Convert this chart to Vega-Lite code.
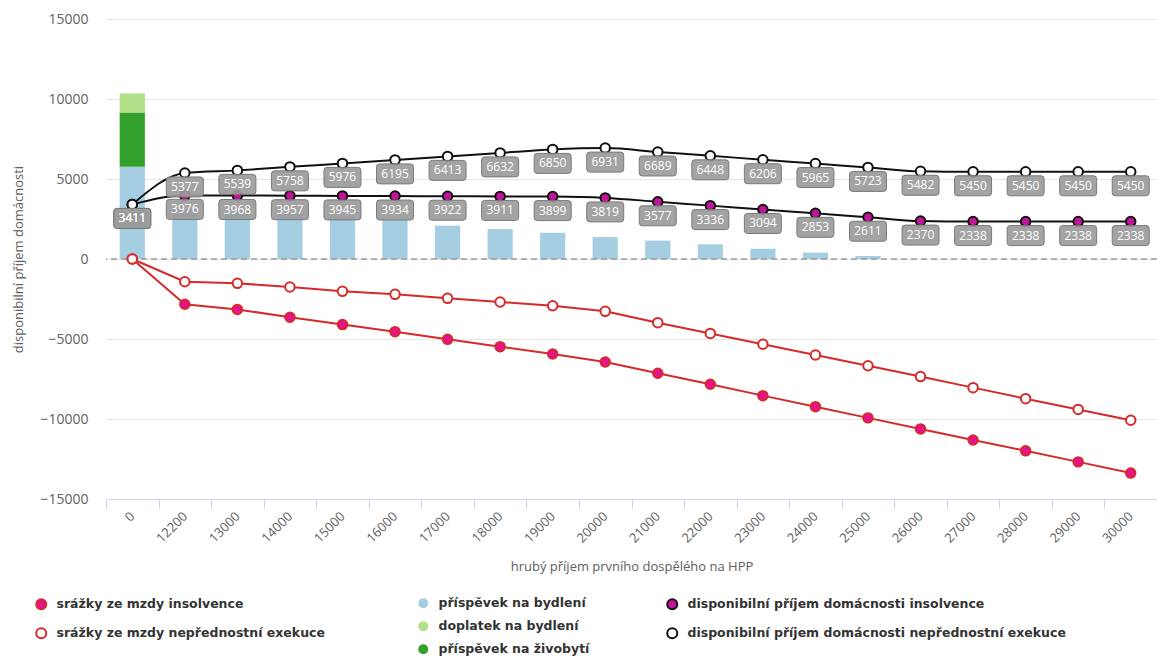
{
  "$schema": "https://vega.github.io/schema/vega-lite/v6.json",
  "width": 1051,
  "height": 480,
  "autosize": {"type": "none"},
  "padding": {"left": 106, "top": 19, "right": 0, "bottom": 157},
  "background": "white",
  "config": {
    "view": {"stroke": null},
    "font": "Open Sans",
    "axis": {"labelFont": "Open Sans", "titleFont": "Open Sans", "labelColor": "#606060", "titleColor": "#606060", "titleFontWeight": "normal"},
    "axisX": {"labelAngle": -45, "labelAlign": "right", "labelBaseline": "middle", "tickBand": "extent", "tickSize": 10, "tickColor": "#ccd6eb", "domainColor": "#ccd6eb", "grid": false, "labelFontSize": 13, "labelPadding": 5, "titleFontSize": 13, "titlePadding": 15},
    "axisY": {"grid": true, "gridColor": "#e6e6e6", "domain": false, "ticks": false, "labelFontSize": 14, "labelPadding": 18, "titleFontSize": 13, "titlePadding": 14},
    "legend": {"labelFont": "DejaVu Sans", "labelFontSize": 12.5, "labelFontWeight": "bold", "labelColor": "#333333", "labelLimit": 0, "symbolSize": 100, "rowPadding": 10, "labelOffset": 9}
  },
  "datasets": {
    "bars": [
      {"x": "0", "typ": "příspěvek na bydlení", "v": 5770},
      {"x": "0", "typ": "příspěvek na živobytí", "v": 3390},
      {"x": "0", "typ": "doplatek na bydlení", "v": 1190},
      {"x": "12200", "typ": "příspěvek na bydlení", "v": 3150},
      {"x": "13000", "typ": "příspěvek na bydlení", "v": 3000},
      {"x": "14000", "typ": "příspěvek na bydlení", "v": 2850},
      {"x": "15000", "typ": "příspěvek na bydlení", "v": 2650},
      {"x": "16000", "typ": "příspěvek na bydlení", "v": 2450},
      {"x": "17000", "typ": "příspěvek na bydlení", "v": 2080},
      {"x": "18000", "typ": "příspěvek na bydlení", "v": 1870},
      {"x": "19000", "typ": "příspěvek na bydlení", "v": 1640},
      {"x": "20000", "typ": "příspěvek na bydlení", "v": 1370},
      {"x": "21000", "typ": "příspěvek na bydlení", "v": 1150},
      {"x": "22000", "typ": "příspěvek na bydlení", "v": 920},
      {"x": "23000", "typ": "příspěvek na bydlení", "v": 640},
      {"x": "24000", "typ": "příspěvek na bydlení", "v": 400},
      {"x": "25000", "typ": "příspěvek na bydlení", "v": 190}
    ],
    "zero": [{"v": 0}],
    "srazky": [
      {"x": "0", "serie": "srážky ze mzdy insolvence", "v": 0},
      {"x": "12200", "serie": "srážky ze mzdy insolvence", "v": -2830},
      {"x": "13000", "serie": "srážky ze mzdy insolvence", "v": -3150},
      {"x": "14000", "serie": "srážky ze mzdy insolvence", "v": -3640},
      {"x": "15000", "serie": "srážky ze mzdy insolvence", "v": -4100},
      {"x": "16000", "serie": "srážky ze mzdy insolvence", "v": -4540},
      {"x": "17000", "serie": "srážky ze mzdy insolvence", "v": -5020},
      {"x": "18000", "serie": "srážky ze mzdy insolvence", "v": -5480},
      {"x": "19000", "serie": "srážky ze mzdy insolvence", "v": -5940},
      {"x": "20000", "serie": "srážky ze mzdy insolvence", "v": -6440},
      {"x": "21000", "serie": "srážky ze mzdy insolvence", "v": -7140},
      {"x": "22000", "serie": "srážky ze mzdy insolvence", "v": -7830},
      {"x": "23000", "serie": "srážky ze mzdy insolvence", "v": -8540},
      {"x": "24000", "serie": "srážky ze mzdy insolvence", "v": -9230},
      {"x": "25000", "serie": "srážky ze mzdy insolvence", "v": -9930},
      {"x": "26000", "serie": "srážky ze mzdy insolvence", "v": -10620},
      {"x": "27000", "serie": "srážky ze mzdy insolvence", "v": -11310},
      {"x": "28000", "serie": "srážky ze mzdy insolvence", "v": -11990},
      {"x": "29000", "serie": "srážky ze mzdy insolvence", "v": -12680},
      {"x": "30000", "serie": "srážky ze mzdy insolvence", "v": -13380},
      {"x": "0", "serie": "srážky ze mzdy nepřednostní exekuce", "v": 0},
      {"x": "12200", "serie": "srážky ze mzdy nepřednostní exekuce", "v": -1420},
      {"x": "13000", "serie": "srážky ze mzdy nepřednostní exekuce", "v": -1520},
      {"x": "14000", "serie": "srážky ze mzdy nepřednostní exekuce", "v": -1750},
      {"x": "15000", "serie": "srážky ze mzdy nepřednostní exekuce", "v": -2020},
      {"x": "16000", "serie": "srážky ze mzdy nepřednostní exekuce", "v": -2210},
      {"x": "17000", "serie": "srážky ze mzdy nepřednostní exekuce", "v": -2460},
      {"x": "18000", "serie": "srážky ze mzdy nepřednostní exekuce", "v": -2690},
      {"x": "19000", "serie": "srážky ze mzdy nepřednostní exekuce", "v": -2920},
      {"x": "20000", "serie": "srážky ze mzdy nepřednostní exekuce", "v": -3270},
      {"x": "21000", "serie": "srážky ze mzdy nepřednostní exekuce", "v": -3980},
      {"x": "22000", "serie": "srážky ze mzdy nepřednostní exekuce", "v": -4650},
      {"x": "23000", "serie": "srážky ze mzdy nepřednostní exekuce", "v": -5330},
      {"x": "24000", "serie": "srážky ze mzdy nepřednostní exekuce", "v": -6000},
      {"x": "25000", "serie": "srážky ze mzdy nepřednostní exekuce", "v": -6670},
      {"x": "26000", "serie": "srážky ze mzdy nepřednostní exekuce", "v": -7350},
      {"x": "27000", "serie": "srážky ze mzdy nepřednostní exekuce", "v": -8040},
      {"x": "28000", "serie": "srážky ze mzdy nepřednostní exekuce", "v": -8730},
      {"x": "29000", "serie": "srážky ze mzdy nepřednostní exekuce", "v": -9400},
      {"x": "30000", "serie": "srážky ze mzdy nepřednostní exekuce", "v": -10080}
    ],
    "disp": [
      {"x": "0", "serie": "disponibilní příjem domácnosti insolvence", "v": 3411},
      {"x": "12200", "serie": "disponibilní příjem domácnosti insolvence", "v": 3976},
      {"x": "13000", "serie": "disponibilní příjem domácnosti insolvence", "v": 3968},
      {"x": "14000", "serie": "disponibilní příjem domácnosti insolvence", "v": 3957},
      {"x": "15000", "serie": "disponibilní příjem domácnosti insolvence", "v": 3945},
      {"x": "16000", "serie": "disponibilní příjem domácnosti insolvence", "v": 3934},
      {"x": "17000", "serie": "disponibilní příjem domácnosti insolvence", "v": 3922},
      {"x": "18000", "serie": "disponibilní příjem domácnosti insolvence", "v": 3911},
      {"x": "19000", "serie": "disponibilní příjem domácnosti insolvence", "v": 3899},
      {"x": "20000", "serie": "disponibilní příjem domácnosti insolvence", "v": 3819},
      {"x": "21000", "serie": "disponibilní příjem domácnosti insolvence", "v": 3577},
      {"x": "22000", "serie": "disponibilní příjem domácnosti insolvence", "v": 3336},
      {"x": "23000", "serie": "disponibilní příjem domácnosti insolvence", "v": 3094},
      {"x": "24000", "serie": "disponibilní příjem domácnosti insolvence", "v": 2853},
      {"x": "25000", "serie": "disponibilní příjem domácnosti insolvence", "v": 2611},
      {"x": "26000", "serie": "disponibilní příjem domácnosti insolvence", "v": 2370},
      {"x": "27000", "serie": "disponibilní příjem domácnosti insolvence", "v": 2338},
      {"x": "28000", "serie": "disponibilní příjem domácnosti insolvence", "v": 2338},
      {"x": "29000", "serie": "disponibilní příjem domácnosti insolvence", "v": 2338},
      {"x": "30000", "serie": "disponibilní příjem domácnosti insolvence", "v": 2338},
      {"x": "0", "serie": "disponibilní příjem domácnosti nepřednostní exekuce", "v": 3411},
      {"x": "12200", "serie": "disponibilní příjem domácnosti nepřednostní exekuce", "v": 5377},
      {"x": "13000", "serie": "disponibilní příjem domácnosti nepřednostní exekuce", "v": 5539},
      {"x": "14000", "serie": "disponibilní příjem domácnosti nepřednostní exekuce", "v": 5758},
      {"x": "15000", "serie": "disponibilní příjem domácnosti nepřednostní exekuce", "v": 5976},
      {"x": "16000", "serie": "disponibilní příjem domácnosti nepřednostní exekuce", "v": 6195},
      {"x": "17000", "serie": "disponibilní příjem domácnosti nepřednostní exekuce", "v": 6413},
      {"x": "18000", "serie": "disponibilní příjem domácnosti nepřednostní exekuce", "v": 6632},
      {"x": "19000", "serie": "disponibilní příjem domácnosti nepřednostní exekuce", "v": 6850},
      {"x": "20000", "serie": "disponibilní příjem domácnosti nepřednostní exekuce", "v": 6931},
      {"x": "21000", "serie": "disponibilní příjem domácnosti nepřednostní exekuce", "v": 6689},
      {"x": "22000", "serie": "disponibilní příjem domácnosti nepřednostní exekuce", "v": 6448},
      {"x": "23000", "serie": "disponibilní příjem domácnosti nepřednostní exekuce", "v": 6206},
      {"x": "24000", "serie": "disponibilní příjem domácnosti nepřednostní exekuce", "v": 5965},
      {"x": "25000", "serie": "disponibilní příjem domácnosti nepřednostní exekuce", "v": 5723},
      {"x": "26000", "serie": "disponibilní příjem domácnosti nepřednostní exekuce", "v": 5482},
      {"x": "27000", "serie": "disponibilní příjem domácnosti nepřednostní exekuce", "v": 5450},
      {"x": "28000", "serie": "disponibilní příjem domácnosti nepřednostní exekuce", "v": 5450},
      {"x": "29000", "serie": "disponibilní příjem domácnosti nepřednostní exekuce", "v": 5450},
      {"x": "30000", "serie": "disponibilní příjem domácnosti nepřednostní exekuce", "v": 5450}
    ]
  },
  "layer": [
    {
      "data": {"name": "bars"},
      "mark": {"type": "bar", "width": {"band": 0.48}},
      "encoding": {
        "x": {"field": "x", "type": "nominal", "title": "hrubý příjem prvního dospělého na HPP", "scale": {"domain": ["0","12200","13000","14000","15000","16000","17000","18000","19000","20000","21000","22000","23000","24000","25000","26000","27000","28000","29000","30000"], "paddingInner": 0, "paddingOuter": 0}},
        "y": {"field": "v", "type": "quantitative", "stack": "zero", "title": "disponibilní příjem domácnosti", "scale": {"domain": [-15000, 15000], "nice": false}, "axis": {"values": [-15000, -10000, -5000, 0, 5000, 10000, 15000], "format": "d"}},
        "fill": {"field": "typ", "type": "nominal", "scale": {"domain": ["příspěvek na bydlení", "doplatek na bydlení", "příspěvek na živobytí"], "range": ["#a6cee3", "#b2df8a", "#33a02c"]}, "legend": {"title": null, "orient": "none", "legendX": 311, "legendY": 578, "symbolType": "circle", "symbolStrokeWidth": 0}},
        "order": {"field": "v", "sort": "descending"}
      }
    },
    {
      "data": {"name": "zero"},
      "mark": {"type": "rule", "color": "#9a9a9a", "strokeWidth": 1.5, "strokeDash": [6, 4]},
      "encoding": {
        "y": {"field": "v", "type": "quantitative", "title": "disponibilní příjem domácnosti", "scale": {"domain": [-15000, 15000], "nice": false}, "axis": {"values": [-15000, -10000, -5000, 0, 5000, 10000, 15000], "format": "d"}}
      }
    },
    {
      "data": {"name": "srazky"},
      "mark": {"type": "line", "color": "#d42a2a", "strokeWidth": 2},
      "encoding": {
        "x": {"field": "x", "type": "nominal", "title": "hrubý příjem prvního dospělého na HPP", "scale": {"domain": ["0","12200","13000","14000","15000","16000","17000","18000","19000","20000","21000","22000","23000","24000","25000","26000","27000","28000","29000","30000"], "paddingInner": 0, "paddingOuter": 0}},
        "y": {"field": "v", "type": "quantitative", "title": "disponibilní příjem domácnosti", "scale": {"domain": [-15000, 15000], "nice": false}, "axis": {"values": [-15000, -10000, -5000, 0, 5000, 10000, 15000], "format": "d"}},
        "detail": {"field": "serie", "type": "nominal"}
      }
    },
    {
      "data": {"name": "srazky"},
      "mark": {"type": "point", "shape": "circle", "filled": true, "size": 90, "stroke": "#d42a2a", "strokeWidth": 2, "opacity": 1},
      "encoding": {
        "x": {"field": "x", "type": "nominal", "title": "hrubý příjem prvního dospělého na HPP", "scale": {"domain": ["0","12200","13000","14000","15000","16000","17000","18000","19000","20000","21000","22000","23000","24000","25000","26000","27000","28000","29000","30000"], "paddingInner": 0, "paddingOuter": 0}},
        "y": {"field": "v", "type": "quantitative", "title": "disponibilní příjem domácnosti", "scale": {"domain": [-15000, 15000], "nice": false}, "axis": {"values": [-15000, -10000, -5000, 0, 5000, 10000, 15000], "format": "d"}},
        "fill": {"field": "serie", "type": "nominal", "scale": {"domain": ["srážky ze mzdy insolvence", "srážky ze mzdy nepřednostní exekuce"], "range": ["#e5138e", "#ffffff"]}, "legend": {"title": null, "orient": "none", "legendX": -71, "legendY": 579, "symbolType": "circle", "symbolStrokeColor": "#d42a2a", "symbolStrokeWidth": 2}}
      }
    },
    {
      "data": {"name": "disp"},
      "mark": {"type": "line", "color": "#111111", "strokeWidth": 2, "interpolate": "monotone"},
      "encoding": {
        "x": {"field": "x", "type": "nominal", "title": "hrubý příjem prvního dospělého na HPP", "scale": {"domain": ["0","12200","13000","14000","15000","16000","17000","18000","19000","20000","21000","22000","23000","24000","25000","26000","27000","28000","29000","30000"], "paddingInner": 0, "paddingOuter": 0}},
        "y": {"field": "v", "type": "quantitative", "title": "disponibilní příjem domácnosti", "scale": {"domain": [-15000, 15000], "nice": false}, "axis": {"values": [-15000, -10000, -5000, 0, 5000, 10000, 15000], "format": "d"}},
        "detail": {"field": "serie", "type": "nominal"}
      }
    },
    {
      "data": {"name": "disp"},
      "mark": {"type": "point", "shape": "circle", "filled": true, "size": 90, "stroke": "#111111", "strokeWidth": 2, "opacity": 1},
      "encoding": {
        "x": {"field": "x", "type": "nominal", "title": "hrubý příjem prvního dospělého na HPP", "scale": {"domain": ["0","12200","13000","14000","15000","16000","17000","18000","19000","20000","21000","22000","23000","24000","25000","26000","27000","28000","29000","30000"], "paddingInner": 0, "paddingOuter": 0}},
        "y": {"field": "v", "type": "quantitative", "title": "disponibilní příjem domácnosti", "scale": {"domain": [-15000, 15000], "nice": false}, "axis": {"values": [-15000, -10000, -5000, 0, 5000, 10000, 15000], "format": "d"}},
        "fill": {"field": "serie", "type": "nominal", "scale": {"domain": ["disponibilní příjem domácnosti insolvence", "disponibilní příjem domácnosti nepřednostní exekuce"], "range": ["#c4139b", "#ffffff"]}, "legend": {"title": null, "orient": "none", "legendX": 560, "legendY": 579, "symbolType": "circle", "symbolStrokeColor": "#111111", "symbolStrokeWidth": 2}}
      }
    },
    {
      "data": {"name": "disp"},
      "mark": {"type": "point", "shape": "M -1.55 -1 L 1.55 -1 Q 1.85 -1 1.85 -0.7 L 1.85 0.7 Q 1.85 1 1.55 1 L -1.55 1 Q -1.85 1 -1.85 0.7 L -1.85 -0.7 Q -1.85 -1 -1.55 -1 Z", "size": 400, "filled": true, "fill": "#9b9b9b", "fillOpacity": 0.92, "stroke": "#7a7a7a", "strokeWidth": 1, "opacity": 1, "yOffset": 14},
      "encoding": {
        "x": {"field": "x", "type": "nominal", "title": "hrubý příjem prvního dospělého na HPP", "scale": {"domain": ["0","12200","13000","14000","15000","16000","17000","18000","19000","20000","21000","22000","23000","24000","25000","26000","27000","28000","29000","30000"], "paddingInner": 0, "paddingOuter": 0}},
        "y": {"field": "v", "type": "quantitative", "title": "disponibilní příjem domácnosti", "scale": {"domain": [-15000, 15000], "nice": false}, "axis": {"values": [-15000, -10000, -5000, 0, 5000, 10000, 15000], "format": "d"}}
      }
    },
    {
      "data": {"name": "disp"},
      "mark": {"type": "text", "color": "#ffffff", "font": "Open Sans", "fontSize": 12, "baseline": "middle", "align": "center", "yOffset": 14},
      "encoding": {
        "x": {"field": "x", "type": "nominal", "title": "hrubý příjem prvního dospělého na HPP", "scale": {"domain": ["0","12200","13000","14000","15000","16000","17000","18000","19000","20000","21000","22000","23000","24000","25000","26000","27000","28000","29000","30000"], "paddingInner": 0, "paddingOuter": 0}},
        "y": {"field": "v", "type": "quantitative", "title": "disponibilní příjem domácnosti", "scale": {"domain": [-15000, 15000], "nice": false}, "axis": {"values": [-15000, -10000, -5000, 0, 5000, 10000, 15000], "format": "d"}},
        "text": {"field": "v", "type": "quantitative", "format": "d"}
      }
    }
  ],
  "resolve": {"scale": {"fill": "independent"}, "legend": {"fill": "independent"}}
}
